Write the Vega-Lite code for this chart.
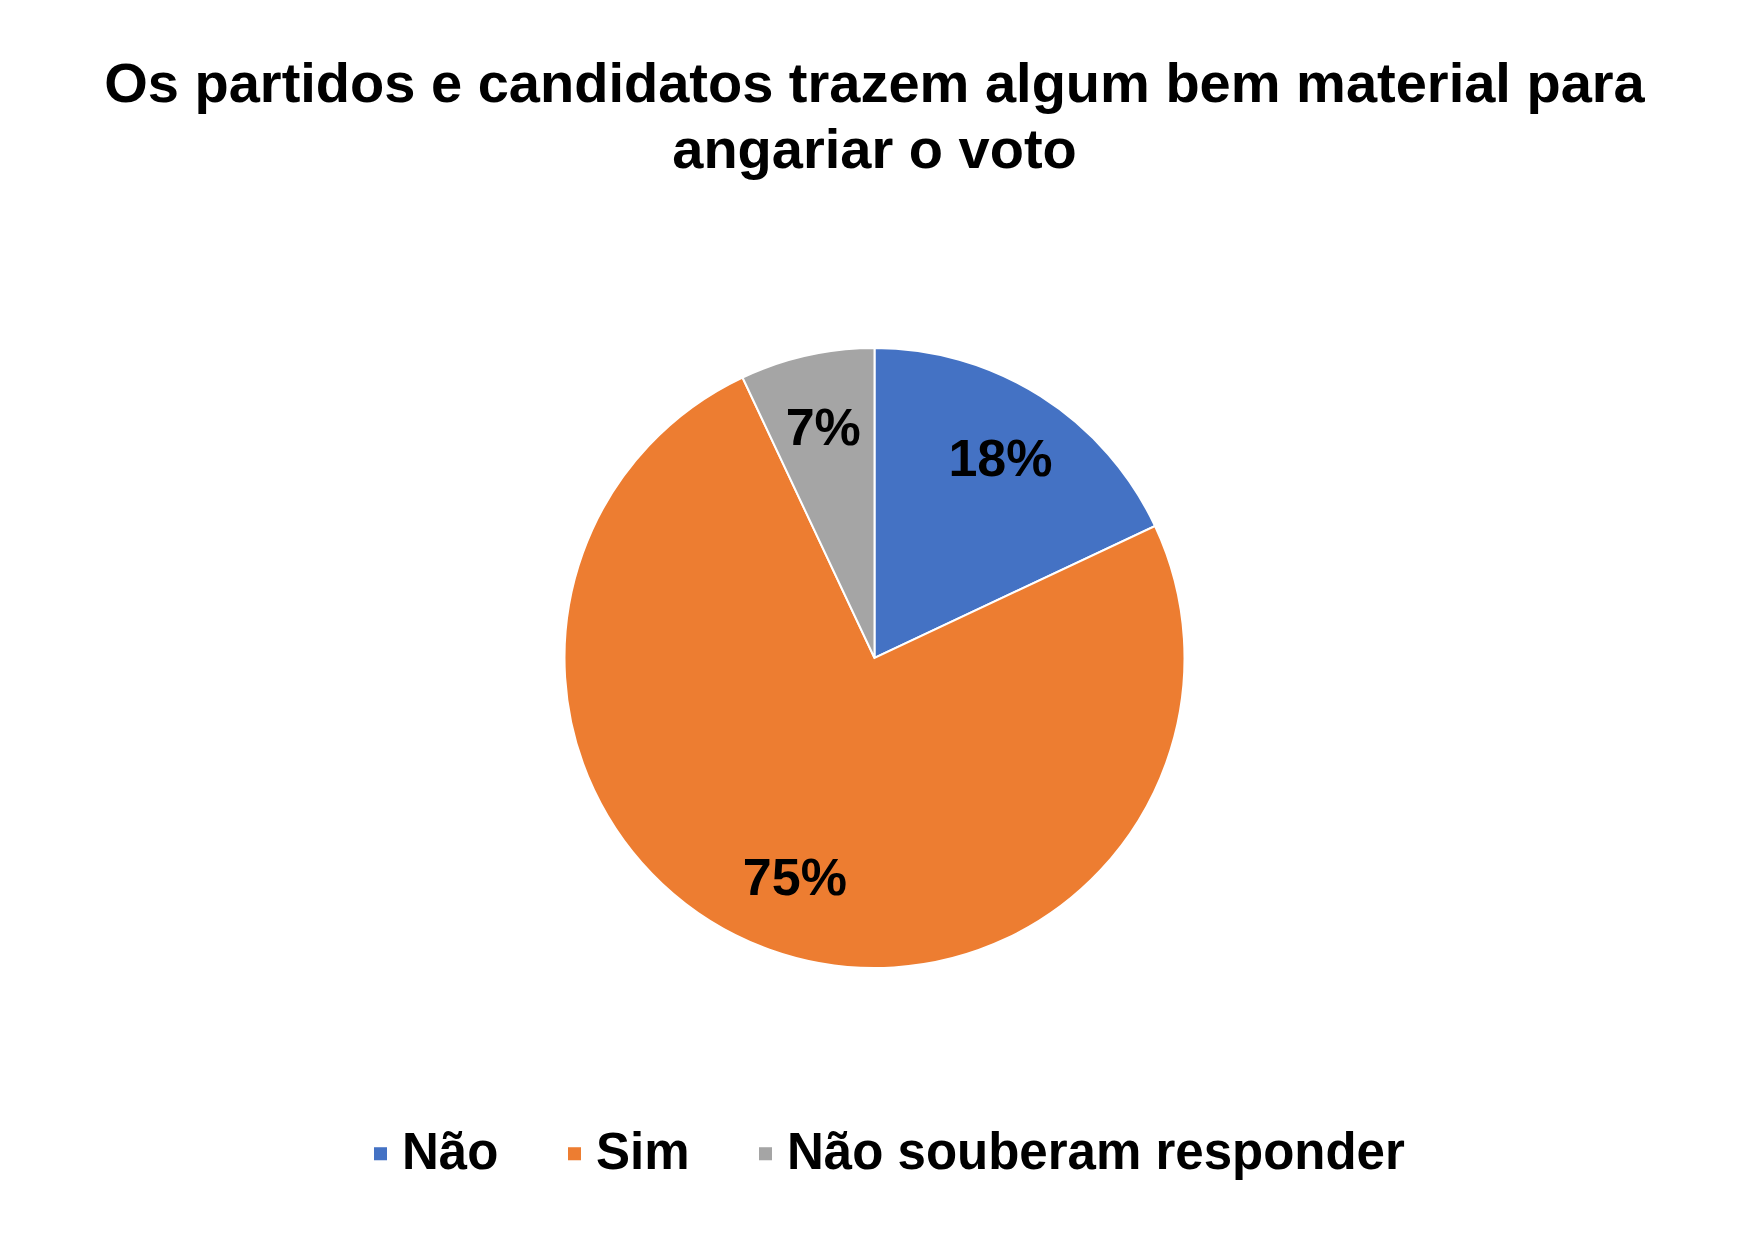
{
  "$schema": "https://vega.github.io/schema/vega-lite/v6.json",
  "width": 1729,
  "height": 896,
  "padding": {"top": 57, "bottom": 10, "left": 10, "right": 10},
  "background": "white",
  "title": {
    "text": ["Os partidos e candidatos trazem algum bem material para", "angariar o voto"],
    "font": "Liberation Sans",
    "fontSize": 56,
    "fontWeight": "bold",
    "color": "#000000",
    "lineHeight": 66,
    "anchor": "middle",
    "offset": 30
  },
  "data": {
    "values": [
      {"categoria": "Não", "valor": 18, "rotulo": "18%", "ordem": 1},
      {"categoria": "Sim", "valor": 75, "rotulo": "75%", "ordem": 2},
      {"categoria": "Não souberam responder", "valor": 7, "rotulo": "7%", "ordem": 3}
    ]
  },
  "encoding": {
    "theta": {"field": "valor", "type": "quantitative", "stack": true},
    "order": {"field": "ordem", "type": "quantitative"},
    "color": {
      "field": "categoria",
      "type": "nominal",
      "sort": ["Não", "Sim", "Não souberam responder"],
      "scale": {
        "domain": ["Não", "Sim", "Não souberam responder"],
        "range": ["#4472C4", "#ED7D31", "#A5A5A5"]
      },
      "legend": {
        "title": null,
        "orient": "none",
        "legendX": 345,
        "legendY": 918,
        "direction": "horizontal",
        "padding": 0,
        "symbolType": "square",
        "symbolSize": 170,
        "symbolStrokeWidth": 0,
        "labelFont": "Liberation Sans",
        "labelFontSize": 51,
        "labelFontWeight": "bold",
        "labelColor": "#000000",
        "labelLimit": 1000,
        "labelOffset": -4,
        "columnPadding": 50
      }
    }
  },
  "layer": [
    {
      "mark": {"type": "arc", "outerRadius": 310, "stroke": "white", "strokeWidth": 2}
    },
    {
      "mark": {"type": "text", "radius": 235, "font": "Liberation Sans", "fontSize": 52, "fontWeight": "bold", "color": "#000000"},
      "encoding": {
        "text": {"field": "rotulo", "type": "nominal"},
        "color": {"value": "#000000"}
      }
    }
  ],
  "config": {"view": {"stroke": null}}
}
